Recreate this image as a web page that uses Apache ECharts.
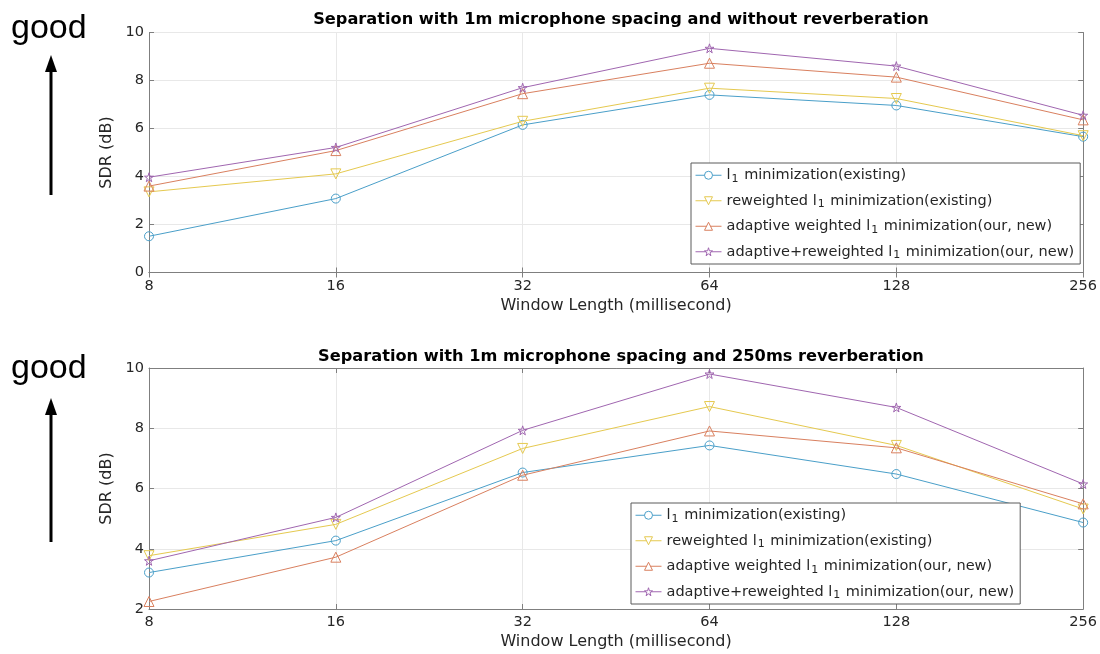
<!DOCTYPE html>
<html>
<head>
<meta charset="utf-8">
<title>SDR vs window length</title>
<script src="https://cdn.jsdelivr.net/npm/echarts@6/dist/echarts.min.js"></script>
<style>
  html, body { margin: 0; padding: 0; background: #ffffff; }
  #chart { width: 1100px; height: 654px; }
</style>
</head>
<body>
<div id="chart"></div>
<script>
// Window lengths (ms), plotted on equally spaced (log2) positions
const windowLengths = ['8', '16', '32', '64', '128', '256'];

const seriesNames = [
  'l1 minimization(existing)',
  'reweighted l1 minimization(existing)',
  'adaptive weighted l1 minimization(our, new)',
  'adaptive+reweighted l1 minimization(our, new)'
];

// SDR (dB) without reverberation
const sdrDryL1         = [1.51, 3.08, 6.15, 7.40, 6.96, 5.66];
const sdrDryReweighted = [3.36, 4.11, 6.30, 7.68, 7.25, 5.70];
const sdrDryAdaptive   = [3.60, 5.08, 7.45, 8.72, 8.14, 6.36];
const sdrDryAdaptRew   = [3.97, 5.21, 7.70, 9.34, 8.60, 6.55];

// SDR (dB) with 250 ms reverberation
const sdrRevL1         = [3.21, 4.27, 6.53, 7.43, 6.48, 4.87];
const sdrRevReweighted = [3.77, 4.81, 7.33, 8.72, 7.43, 5.32];
const sdrRevAdaptive   = [2.25, 3.72, 6.44, 7.91, 7.35, 5.49];
const sdrRevAdaptRew   = [3.60, 5.04, 7.93, 9.80, 8.69, 6.15];

const yTicksDry = { min: 0, max: 10, interval: 2 };
const yTicksRev = { min: 2, max: 10, interval: 2 };

const titleDry = 'Separation with 1m microphone spacing and without reverberation';
const titleRev = 'Separation with 1m microphone spacing and 250ms reverberation';
const xAxisName = 'Window Length (millisecond)';
const yAxisName = 'SDR (dB)';
const goodText = 'good';

const colors = ['#4a9fc9', '#e5c94f', '#d9805f', '#a066b0'];
const starPath = 'path://M50,0 L61,35 L98,35 L68,57 L79,91 L50,70 L21,91 L32,57 L2,35 L39,35 Z';
// hollow outline markers: circle, down-triangle, up-triangle, pentagram
const symbols = [
  { symbol: 'circle', size: 9, rotate: 0 },
  { symbol: 'triangle', size: 10, rotate: 180 },
  { symbol: 'triangle', size: 10, rotate: 0 },
  { symbol: starPath, size: 9, rotate: 0 }
];

const FONT = 'DejaVu Sans';
const INK = '#262626';
const AXIS_GRAY = '#7f7f7f';

const grids = [
  { left: 149, right: 16, top: 32.5, height: 240 },
  { left: 149, right: 16, top: 368, height: 241 }
];

function legendLabel(name) {
  return name.replace(/(^|\s)l1(\s)/, '$1l{sub|1}$2');
}

function makeXAxes(gridIndex) {
  return [
    {
      type: 'category', gridIndex, data: windowLengths, boundaryGap: false,
      name: xAxisName, nameLocation: 'middle', nameGap: 25,
      nameTextStyle: { fontFamily: FONT, fontSize: 16, color: INK },
      axisLine: { lineStyle: { color: AXIS_GRAY, width: 1 } },
      axisTick: { inside: true, length: 5, lineStyle: { color: AXIS_GRAY } },
      axisLabel: { fontFamily: FONT, fontSize: 14.5, color: INK, margin: 6 },
      splitLine: { show: true, lineStyle: { color: '#e8e8e8', width: 1 } }
    },
    {
      type: 'category', gridIndex, data: windowLengths, boundaryGap: false, position: 'top',
      axisLine: { lineStyle: { color: AXIS_GRAY, width: 1 } },
      axisTick: { inside: true, length: 5, lineStyle: { color: AXIS_GRAY } },
      axisLabel: { show: false },
      splitLine: { show: false }
    }
  ];
}

function makeYAxes(gridIndex, ticks) {
  return [
    {
      type: 'value', gridIndex, min: ticks.min, max: ticks.max, interval: ticks.interval,
      name: yAxisName, nameLocation: 'middle', nameGap: 29, nameRotate: 90,
      nameTextStyle: { fontFamily: FONT, fontSize: 16, color: INK },
      axisLine: { show: true, lineStyle: { color: AXIS_GRAY, width: 1 } },
      axisTick: { show: true, inside: true, length: 5, lineStyle: { color: AXIS_GRAY } },
      axisLabel: { fontFamily: FONT, fontSize: 14.5, color: INK, margin: 5 },
      splitLine: { show: true, lineStyle: { color: '#e8e8e8', width: 1 } }
    },
    {
      type: 'value', gridIndex, min: ticks.min, max: ticks.max, interval: ticks.interval,
      position: 'right',
      axisLine: { show: true, lineStyle: { color: AXIS_GRAY, width: 1 } },
      axisTick: { show: true, inside: true, length: 5, lineStyle: { color: AXIS_GRAY } },
      axisLabel: { show: false },
      splitLine: { show: false }
    }
  ];
}

function makeSeries(gridIndex, dataSets) {
  return dataSets.map((values, i) => ({
    type: 'line',
    name: seriesNames[i],
    xAxisIndex: gridIndex * 2,
    yAxisIndex: gridIndex * 2,
    data: values,
    symbol: symbols[i].symbol,
    symbolSize: symbols[i].size,
    symbolRotate: symbols[i].rotate,
    showAllSymbol: true,
    lineStyle: { color: colors[i], width: 1 },
    itemStyle: { color: 'rgba(255,255,255,0)', borderColor: colors[i], borderWidth: 1 },
    emphasis: { disabled: true },
    z: 2 + i
  }));
}

function makeLegend(left, top) {
  return {
    left, top, orient: 'vertical',
    data: seriesNames.map((name, i) => ({
      name,
      itemStyle: { color: '#ffffff', borderColor: colors[i], borderWidth: 1 },
      lineStyle: { color: colors[i], width: 1 }
    })),
    backgroundColor: '#ffffff',
    borderColor: '#5a5a5a', borderWidth: 1,
    padding: [3, 6, 3, 4],
    itemWidth: 26, itemHeight: 10, itemGap: 7,
    selectedMode: false,
    formatter: legendLabel,
    textStyle: {
      fontFamily: FONT, fontSize: 14.5, color: INK, lineHeight: 18.5,
      rich: {
        sub: { fontFamily: FONT, fontSize: 11, lineHeight: 11, verticalAlign: 'bottom', padding: [7, 1, 0, 1], color: INK }
      }
    }
  };
}

function goodMarker(textY, tipY, baseY) {
  return [
    {
      type: 'text', left: 11, top: textY,
      style: { text: goodText, font: '34px "Liberation Sans"', fill: '#000000' }
    },
    {
      type: 'line', shape: { x1: 51, y1: tipY + 14, x2: 51, y2: baseY },
      style: { stroke: '#000000', lineWidth: 3 }
    },
    {
      type: 'polygon', shape: { points: [[51, tipY], [45, tipY + 17], [57, tipY + 17]] },
      style: { fill: '#000000' }
    }
  ];
}

const chart = echarts.init(document.getElementById('chart'), null, { renderer: 'canvas' });

chart.setOption({
  backgroundColor: '#ffffff',
  animation: false,
  title: [
    {
      text: titleDry, left: 616, top: 7, textAlign: 'center',
      textStyle: { fontFamily: FONT, fontSize: 16.2, fontWeight: 'bold', color: '#000000' }
    },
    {
      text: titleRev, left: 616, top: 344, textAlign: 'center',
      textStyle: { fontFamily: FONT, fontSize: 16.2, fontWeight: 'bold', color: '#000000' }
    }
  ],
  grid: grids,
  xAxis: [...makeXAxes(0), ...makeXAxes(1)],
  yAxis: [...makeYAxes(0, yTicksDry), ...makeYAxes(1, yTicksRev)],
  legend: [makeLegend(691, 163), makeLegend(631, 503)],
  series: [
    ...makeSeries(0, [sdrDryL1, sdrDryReweighted, sdrDryAdaptive, sdrDryAdaptRew]),
    ...makeSeries(1, [sdrRevL1, sdrRevReweighted, sdrRevAdaptive, sdrRevAdaptRew])
  ],
  graphic: [
    ...goodMarker(12, 55, 195),
    ...goodMarker(352, 398, 542)
  ]
});
</script>
</body>
</html>
